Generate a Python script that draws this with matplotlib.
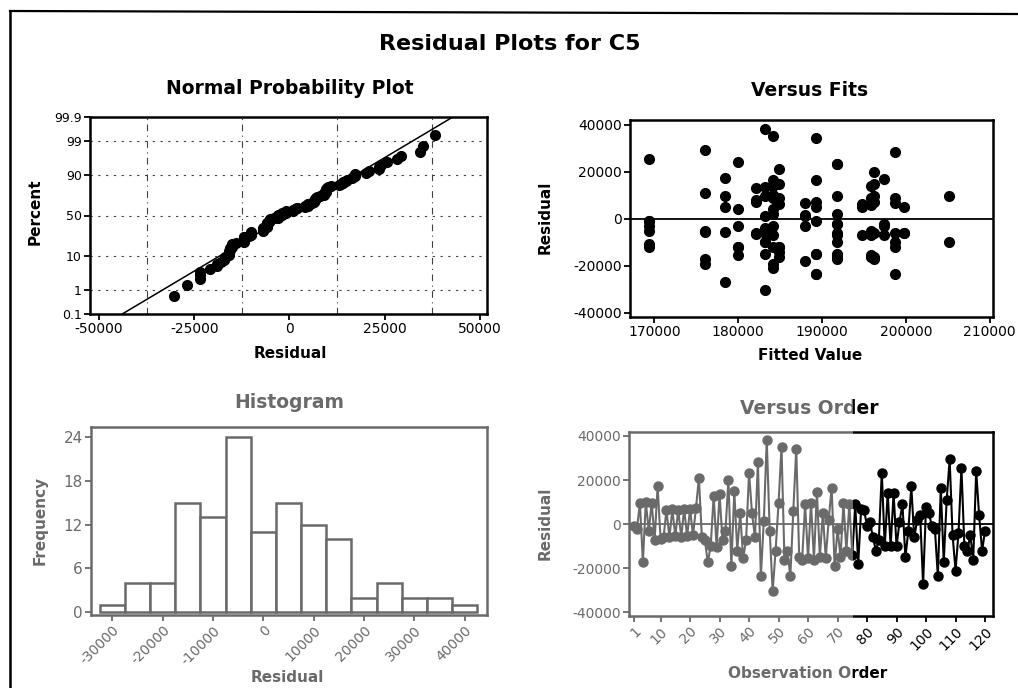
import numpy as np
import matplotlib
matplotlib.use("Agg")
import matplotlib.pyplot as plt
from matplotlib.patches import Rectangle
from matplotlib.lines import Line2D
from matplotlib.ticker import FixedLocator, MultipleLocator
from statistics import NormalDist

# Residuals in observation order
residuals = [
    -1000, -2000, 9500, -17000, 10000, -3000, 9800, -7000, 17300, -6500,
    -6000, 6500, -6000, 6800, -5500, 6500, -6000, 7000, -5500, 6800,
    -5000, 7200, 21000, -6000, -7000, -17200, -10000, 13000, -10500, 13500,
    -7000, -3000, 20000, -19000, 15000, -12000, 5000, -15500, -7000, 23400,
    5000, -6000, 28200, -23600, 1500, 38300, -3000, -30400, -12000, 9700,
    35000, -16000, -12000, -23600, 6000, 34300, -15000, -16000, 9000, -15500,
    9500, -16000, 14800, -15000, 5000, -15500, 2000, 16600, -19000, -2000,
    -15000, 9500, -12000, 9000, -14000, 9000, -18000, 7000, 6500, -1000,
    1000, -6000, -12000, -7000, 23400, -10000, 14000, -10000, 14000, -10000,
    1000, 9000, -15000, -3000, 17100, -6000, 2000, 4000, -27000, 8000,
    5000, -1000, -2000, -23500, 16400, -17000, 11000, 29400, -5000, -21000,
    -4000, 25600, -10000, -12000, -5000, -16000, 24100, 4000, -12000, -3000,
]

# Fitted values for the same observations
fitted = [
    169400, 191800, 178400, 176100, 184100, 188000, 191800, 195800, 178400, 182100,
    198700, 194800, 196200, 188000, 178400, 195800, 191800, 182100, 176100, 198700,
    169400, 196200, 184900, 199800, 194800, 191800, 183200, 182100, 169400, 183200,
    184100, 180000, 196200, 184100, 184900, 180000, 189300, 180000, 191800, 191800,
    178400, 183200, 198700, 189300, 188000, 183200, 184100, 183200, 169400, 183200,
    184100, 196200, 184100, 198700, 195800, 189300, 189300, 195800, 184100, 191800,
    205100, 184900, 196200, 183200, 199800, 195800, 191800, 184100, 176100, 197400,
    191800, 196200, 198700, 184900, 184900, 195800, 188000, 189300, 184900, 189300,
    183200, 199800, 184900, 197400, 191800, 191800, 184100, 205100, 195800, 198700,
    188000, 198700, 189300, 197400, 197400, 182100, 184100, 180000, 178400, 182100,
    194800, 169400, 191800, 189300, 189300, 196200, 176100, 176100, 176100, 184100,
    183200, 169400, 183200, 180000, 195800, 191800, 180000, 184100, 184900, 169400,
]

# Axis ticks
npp_xticks = [-50000, -25000, 0, 25000, 50000]
npp_pct_ticks = [0.1, 1, 10, 50, 90, 99, 99.9]
npp_pct_labels = ["0.1", "1", "10", "50", "90", "99", "99.9"]
fits_xticks = [170000, 180000, 190000, 200000, 210000]
resid_yticks = [-40000, -20000, 0, 20000, 40000]
hist_bin_edges = list(range(-32500, 45000, 5000))
hist_xticks = [-30000, -20000, -10000, 0, 10000, 20000, 30000, 40000]
hist_yticks = [0, 6, 12, 18, 24]
order_xticks = [1, 10, 20, 30, 40, 50, 60, 70, 80, 90, 100, 110, 120]

plt.rcParams["axes.unicode_minus"] = False
plt.rcParams["font.family"] = "DejaVu Sans"

W, H = 1018, 688
fig = plt.figure(figsize=(W / 100, H / 100), dpi=100)
fig.patch.set_facecolor("white")


def px_axes(left, top, right, bottom):
    return fig.add_axes([left / W, 1 - bottom / H, (right - left) / W, (bottom - top) / H])


def px_text(x, y, s, **kw):
    kw.setdefault("ha", "center")
    kw.setdefault("va", "center")
    return fig.text(x / W, 1 - y / H, s, **kw)


def style(ax):
    for sp in ax.spines.values():
        sp.set_linewidth(1.8)
        sp.set_color("black")
    ax.tick_params(direction="out", length=4, width=1.3, labelsize=10,
                   colors="black", pad=2)
    ax.tick_params(which="minor", length=0)


res = np.array(residuals, dtype=float)
fit = np.array(fitted, dtype=float)
n = len(res)
nd = NormalDist()

# ---- Normal probability plot ----
ax1 = px_axes(90, 117, 487, 314)
style(ax1)
srt = np.sort(res)
ranks = (np.arange(1, n + 1) - 0.3) / (n + 0.4)
z = np.array([nd.inv_cdf(p) for p in ranks])
zlim = (nd.inv_cdf(0.001), nd.inv_cdf(0.999))
mu, sd = res.mean(), res.std(ddof=1)
ax1.plot([mu + sd * zlim[0], mu + sd * zlim[1]], zlim, color="black", lw=1.1, zorder=2)
ax1.plot(srt, z, "o", color="black", ms=7, zorder=3)
ax1.set_ylim(*zlim)
ax1.set_xlim(-52400, 51900)
ax1.yaxis.set_major_locator(FixedLocator([nd.inv_cdf(p / 100) for p in npp_pct_ticks]))
ax1.set_yticklabels(npp_pct_labels)
ax1.set_xticks(npp_xticks)
ax1.set_xticklabels([str(v) for v in npp_xticks])
ax1.xaxis.set_minor_locator(MultipleLocator(12500))
ax1.grid(True, which="minor", axis="x", color="0.25", lw=0.8, ls=(0, (6, 4, 1, 4)))
ax1.grid(True, which="major", axis="y", color="0.25", lw=0.8, ls=(0, (2, 5)))
ax1.tick_params(axis="y", labelsize=9)

# ---- Versus fits ----
ax2 = px_axes(630, 120, 993, 317)
style(ax2)
ax2.axhline(0, color="black", lw=1.3, zorder=2)
ax2.plot(fit, res, "o", color="black", ms=7, zorder=3)
ax2.set_xlim(167100, 210400)
ax2.set_ylim(-41700, 42000)
ax2.set_xticks(fits_xticks)
ax2.set_xticklabels([str(v) for v in fits_xticks])
ax2.set_yticks(resid_yticks)
ax2.set_yticklabels([str(v) for v in resid_yticks])

# ---- Histogram ----
ax3 = px_axes(91, 427, 487, 615)
style(ax3)
ax3.hist(res, bins=hist_bin_edges, facecolor="white", edgecolor="black", linewidth=1.8)
ax3.set_xlim(-34200, 44400)
ax3.set_ylim(-0.4, 25.4)
ax3.set_yticks(hist_yticks)
ax3.set_yticklabels([str(v) for v in hist_yticks], fontsize=11)
ax3.set_xticks(hist_xticks)
ax3.set_xticklabels([str(v) for v in hist_xticks], rotation=45, ha="right",
                    rotation_mode="anchor")

# ---- Versus order ----
ax4 = px_axes(629, 432, 993, 616)
style(ax4)
obs = np.arange(1, n + 1)
ax4.axhline(0, color="black", lw=1.3, zorder=2)
ax4.plot(obs, res, "-o", color="black", lw=1.5, ms=6.5, zorder=3)
ax4.set_xlim(-0.7, 122.7)
ax4.set_ylim(-41600, 41800)
ax4.set_xticks(order_xticks)
ax4.set_xticklabels([str(v) for v in order_xticks], rotation=45, ha="right",
                    rotation_mode="anchor")
ax4.set_yticks(resid_yticks)
ax4.set_yticklabels([str(v) for v in resid_yticks])

# ---- Titles and axis labels ----
bold = dict(fontweight="bold")
px_text(510, 44, "Residual Plots for C5", fontsize=16, **bold)
px_text(290, 88, "Normal Probability Plot", fontsize=13.5, **bold)
px_text(810, 90, "Versus Fits", fontsize=13.5, **bold)
px_text(289, 403, "Histogram", fontsize=13.5, **bold)
px_text(809, 408, "Versus Order", fontsize=13.5, **bold)

px_text(290, 353, "Residual", fontsize=11, **bold)
px_text(35, 212, "Percent", fontsize=11, rotation=90, **bold)
px_text(810, 355, "Fitted Value", fontsize=11, **bold)
px_text(545, 217, "Residual", fontsize=11, rotation=90, **bold)
px_text(287, 677, "Residual", fontsize=11, **bold)
px_text(40, 520, "Frequency", fontsize=11, rotation=90, **bold)
px_text(808, 673, "Observation Order", fontsize=11, **bold)
px_text(545, 523, "Residual", fontsize=11, rotation=90, **bold)

# ---- Page border ----
fig.add_artist(Line2D([10 / W, 1.0], [1 - 11 / H, 1 - 14 / H], color="black", lw=1.6))
fig.add_artist(Line2D([10 / W, 10 / W], [1 - 11 / H, 0.0], color="black", lw=1.8))

# ---- Faded lower-left region of the page ----
fig.add_artist(Rectangle((14 / W, 0), (853 - 14) / W, (H - 372) / H,
                         transform=fig.transFigure, facecolor="white",
                         edgecolor="none", alpha=0.42, zorder=100))

fig.savefig("out.png", dpi=100)
